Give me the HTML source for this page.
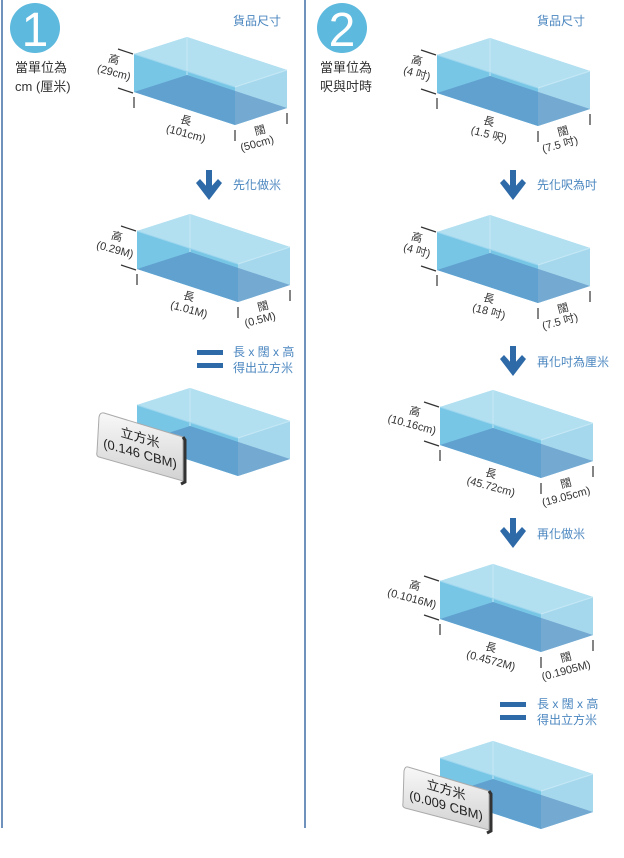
<!DOCTYPE html>
<html><head><meta charset="utf-8"><style>
html,body{margin:0;padding:0;background:#fff}
svg{display:block}
text{font-family:"Liberation Sans","Noto Sans CJK TC",sans-serif}
.b{fill:#4a86bf;font-size:12px}
.k{fill:#333;font-size:11px}
.h{fill:#333;font-size:13px}
</style></head><body>
<svg width="624" height="858" viewBox="0 0 624 858" xmlns="http://www.w3.org/2000/svg">
<defs>
<g id="box">
  <polygon points="0,0 53,-17 153,16 153,54 101,71 0,38" fill="#8dd0ea"/>
  <polygon points="0,0 53,-17 153,16 101,33" fill="#b3e0f1"/>
  <polygon points="101,33 153,16 153,54 101,71" fill="#a6d8ed"/>
  <polygon points="0,0 101,33 101,71 0,38" fill="#78c6e6"/>
  <polygon points="0,38 53,21 153,54 101,71" fill="#4f86c0" opacity="0.58"/>
  <line x1="53" y1="-17" x2="53" y2="21" stroke="#c6e8f5" stroke-width="1"/>
  <line x1="0" y1="0" x2="101" y2="33" stroke="#9fd7ee" stroke-width="1"/>
  <line x1="101" y1="33" x2="153" y2="16" stroke="#c6e8f5" stroke-width="1"/>
</g>
<g id="ticks" stroke="#333" stroke-width="1.2">
  <line x1="-16" y1="-5" x2="-1" y2="0"/>
  <line x1="-16" y1="34" x2="-1" y2="39"/>
  <line x1="0" y1="43" x2="0" y2="54"/>
  <line x1="101" y1="76" x2="101" y2="87"/>
  <line x1="153" y1="59" x2="153" y2="70"/>
</g>
<g id="arrow" fill="#2f6aa8">
  <rect x="-3" y="0" width="6" height="22"/>
  <polygon points="-13,13 -9,9 0,19 9,9 13,13 0,30"/>
</g>
<g id="eq" fill="#2f6aa8">
  <rect x="0" y="0" width="26" height="5"/>
  <rect x="0" y="13" width="26" height="5"/>
</g>
<linearGradient id="tg" x1="0" y1="0" x2="0" y2="1">
  <stop offset="0" stop-color="#f8f8f8"/><stop offset="1" stop-color="#d2d2d2"/>
</linearGradient>
</defs>

<line x1="2" y1="0" x2="2" y2="828" stroke="#3f6ea5" stroke-width="1.5"/>
<line x1="305" y1="0" x2="305" y2="828" stroke="#3f6ea5" stroke-width="1.5"/>

<!-- Column 1 -->
<circle cx="35" cy="28" r="25" fill="#5db9dd"/>
<text x="35" y="46" text-anchor="middle" fill="#fff" font-size="48" font-family="Liberation Sans, sans-serif">1</text>
<text x="15" y="72" class="h">當單位為</text>
<text x="15" y="91" class="h">cm (厘米)</text>
<text x="233" y="25" class="b">貨品尺寸</text>

<use href="#box" x="134" y="54"/><use href="#ticks" x="134" y="54"/>
<g text-anchor="middle">
<text transform="translate(113,63) rotate(15)" class="k">高</text>
<text transform="translate(113,76) rotate(15)" class="k">(29cm)</text>
<text transform="translate(185,124) rotate(15)" class="k">長</text>
<text transform="translate(185,137) rotate(15)" class="k">(101cm)</text>
<text transform="translate(261,134) rotate(-15)" class="k">闊</text>
<text transform="translate(258,147) rotate(-15)" class="k">(50cm)</text>
</g>

<use href="#arrow" x="209" y="170"/>
<text x="233" y="189" class="b">先化做米</text>

<use href="#box" x="137" y="231"/><use href="#ticks" x="137" y="231"/>
<g text-anchor="middle">
<text transform="translate(116,240) rotate(15)" class="k">高</text>
<text transform="translate(114,253) rotate(15)" class="k">(0.29M)</text>
<text transform="translate(188,300) rotate(15)" class="k">長</text>
<text transform="translate(188,313) rotate(15)" class="k">(1.01M)</text>
<text transform="translate(264,310) rotate(-15)" class="k">闊</text>
<text transform="translate(261,323) rotate(-15)" class="k">(0.5M)</text>
</g>

<use href="#eq" x="197" y="350"/>
<text x="233" y="356" class="b">長 x 闊 x 高</text>
<text x="233" y="372" class="b">得出立方米</text>

<use href="#box" x="137" y="405"/>
<path d="M104,413 L183,437 L183,481 L99,457 Q96,456 97,452 L99,417 Q100,412 104,413 Z" fill="url(#tg)" stroke="#aaa" stroke-width="1"/>
<polyline points="183,437 185,440 185,482 181,484" fill="none" stroke="#333" stroke-width="3"/>
<g transform="translate(140,446) skewY(16)" text-anchor="middle">
<text x="0" y="-4" fill="#222" font-size="13">立方米</text>
<text x="0" y="12" fill="#222" font-size="13">(0.146 CBM)</text>
</g>

<!-- Column 2 -->
<circle cx="342" cy="28" r="25" fill="#5db9dd"/>
<text x="342" y="46" text-anchor="middle" fill="#fff" font-size="48" font-family="Liberation Sans, sans-serif">2</text>
<text x="320" y="72" class="h">當單位為</text>
<text x="320" y="91" class="h">呎與吋時</text>
<text x="537" y="25" class="b">貨品尺寸</text>

<use href="#box" x="437" y="55"/><use href="#ticks" x="437" y="55"/>
<g text-anchor="middle">
<text transform="translate(416,64) rotate(15)" class="k">高</text>
<text transform="translate(416,77) rotate(15)" class="k">(4 吋)</text>
<text transform="translate(488,125) rotate(15)" class="k">長</text>
<text transform="translate(488,138) rotate(15)" class="k">(1.5 呎)</text>
<text transform="translate(564,135) rotate(-15)" class="k">闊</text>
<text transform="translate(561,148) rotate(-15)" class="k">(7.5 吋)</text>
</g>

<use href="#arrow" x="513" y="170"/>
<text x="537" y="189" class="b">先化呎為吋</text>

<use href="#box" x="437" y="232"/><use href="#ticks" x="437" y="232"/>
<g text-anchor="middle">
<text transform="translate(416,241) rotate(15)" class="k">高</text>
<text transform="translate(416,254) rotate(15)" class="k">(4 吋)</text>
<text transform="translate(488,302) rotate(15)" class="k">長</text>
<text transform="translate(488,315) rotate(15)" class="k">(18 吋)</text>
<text transform="translate(564,312) rotate(-15)" class="k">闊</text>
<text transform="translate(561,325) rotate(-15)" class="k">(7.5 吋)</text>
</g>

<use href="#arrow" x="513" y="346"/>
<text x="537" y="366" class="b">再化吋為厘米</text>

<use href="#box" x="440" y="407"/><use href="#ticks" x="440" y="407"/>
<g text-anchor="middle">
<text transform="translate(414,415) rotate(15)" class="k">高</text>
<text transform="translate(411,428) rotate(15)" class="k">(10.16cm)</text>
<text transform="translate(490,477) rotate(15)" class="k">長</text>
<text transform="translate(490,490) rotate(15)" class="k">(45.72cm)</text>
<text transform="translate(567,487) rotate(-15)" class="k">闊</text>
<text transform="translate(567,500) rotate(-15)" class="k">(19.05cm)</text>
</g>

<use href="#arrow" x="513" y="518"/>
<text x="537" y="538" class="b">再化做米</text>

<use href="#box" x="440" y="581"/><use href="#ticks" x="440" y="581"/>
<g text-anchor="middle">
<text transform="translate(414,589) rotate(15)" class="k">高</text>
<text transform="translate(411,602) rotate(15)" class="k">(0.1016M)</text>
<text transform="translate(490,651) rotate(15)" class="k">長</text>
<text transform="translate(490,664) rotate(15)" class="k">(0.4572M)</text>
<text transform="translate(567,661) rotate(-15)" class="k">闊</text>
<text transform="translate(567,674) rotate(-15)" class="k">(0.1905M)</text>
</g>

<use href="#eq" x="500" y="702"/>
<text x="537" y="708" class="b">長 x 闊 x 高</text>
<text x="537" y="724" class="b">得出立方米</text>

<use href="#box" x="440" y="758"/>
<path d="M408,767 L489,791 L489,830 L405,808 Q402,807 403,803 L404,771 Q405,766 408,767 Z" fill="url(#tg)" stroke="#aaa" stroke-width="1"/>
<polyline points="489,791 491,794 491,831 487,833" fill="none" stroke="#333" stroke-width="3"/>
<g transform="translate(446,798) skewY(16)" text-anchor="middle">
<text x="0" y="-4" fill="#222" font-size="13">立方米</text>
<text x="0" y="12" fill="#222" font-size="13">(0.009 CBM)</text>
</g>
</svg>
</body></html>
